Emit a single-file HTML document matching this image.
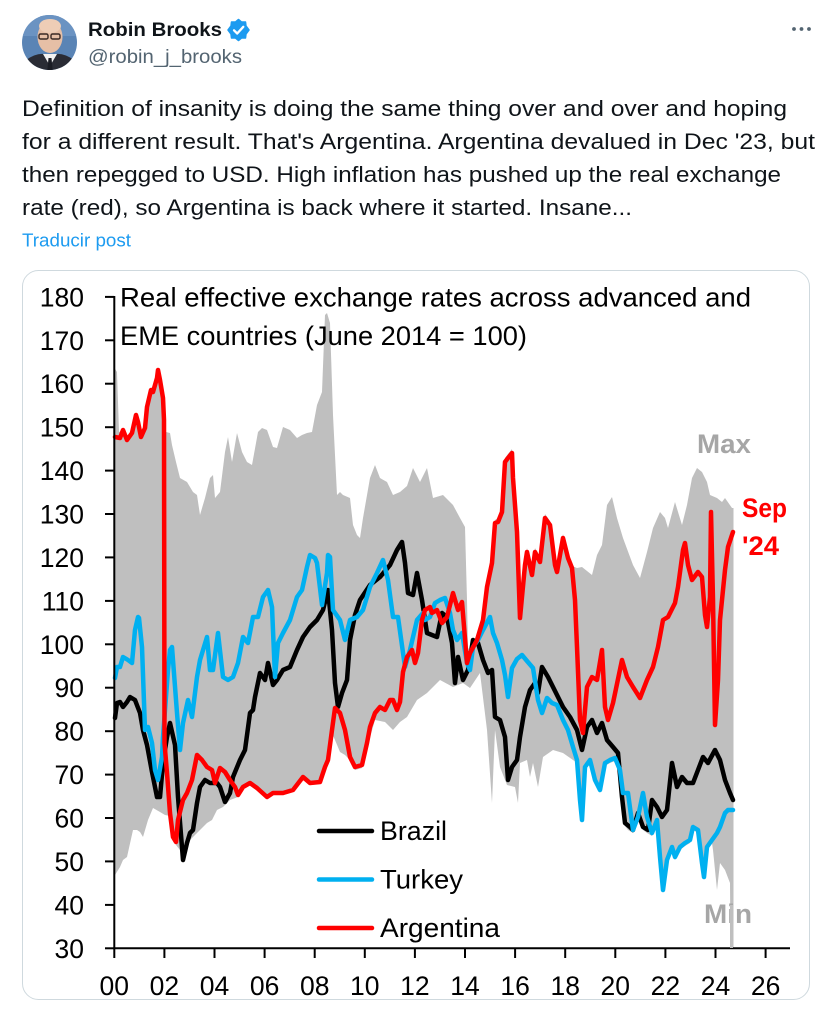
<!DOCTYPE html>
<html>
<head>
<meta charset="utf-8">
<style>
html,body{margin:0;padding:0;background:#fff;}
body{width:832px;height:1023px;overflow:hidden;}
svg{display:block;}
text{font-family:"Liberation Sans",Arial,sans-serif;}
</style>
</head>
<body>
<svg width="832" height="1023" viewBox="0 0 832 1023" xmlns="http://www.w3.org/2000/svg">
  <rect x="0" y="0" width="832" height="1023" fill="#fff"/>

  <!-- Avatar -->
  <defs>
    <clipPath id="av"><circle cx="49.5" cy="42.5" r="27.5"/></clipPath>
  </defs>
  <g clip-path="url(#av)">
    <rect x="20" y="14" width="60" height="60" fill="#5a84b5"/>
    <rect x="20" y="14" width="60" height="22" fill="#6b93c2"/>
    <ellipse cx="50" cy="37" rx="12.5" ry="16" fill="#e6bfa6"/>
    <ellipse cx="50" cy="26" rx="11" ry="7" fill="#eecdb6"/>
    <rect x="39" y="34" width="9" height="5" rx="1.5" fill="none" stroke="#3a2a25" stroke-width="1.4"/>
    <rect x="51" y="34" width="9" height="5" rx="1.5" fill="none" stroke="#3a2a25" stroke-width="1.4"/>
    <path d="M22 74 L26 60 Q36 53 44 54 L50 62 L56 54 Q64 53 74 60 L78 74 Z" fill="#2a2c35"/>
    <path d="M43 54 L50 66 L57 54 Z" fill="#f2f2f2"/>
    <path d="M48.5 58 L51.5 58 L53 74 L47 74 Z" fill="#1a1c24"/>
  </g>

  <!-- Name, badge, handle -->
  <text x="88" y="36" font-size="19" font-weight="bold" fill="#0f1419" textLength="134" lengthAdjust="spacingAndGlyphs">Robin Brooks</text>
  <g transform="translate(238.5,30)">
    <path d="M0,-10.5 L3,-8 L7,-8 L7.5,-4 L10.5,0 L7.5,4 L7,8 L3,8 L0,10.5 L-3,8 L-7,8 L-7.5,4 L-10.5,0 L-7.5,-4 L-7,-8 L-3,-8 Z" fill="#1d9bf0" stroke="#1d9bf0" stroke-width="1.5" stroke-linejoin="round"/>
    <path d="M-4.5,0.3 L-1.3,3.5 L4.8,-3.2" fill="none" stroke="#fff" stroke-width="2.3" stroke-linecap="round" stroke-linejoin="round"/>
  </g>
  <text x="88" y="63" font-size="19" fill="#536471" textLength="154" lengthAdjust="spacingAndGlyphs">@robin_j_brooks</text>

  <!-- more dots -->
  <circle cx="794" cy="29" r="1.9" fill="#536471"/>
  <circle cx="801.5" cy="29" r="1.9" fill="#536471"/>
  <circle cx="809" cy="29" r="1.9" fill="#536471"/>

  <!-- Tweet text -->
  <g font-size="22" fill="#0f1419">
    <text x="22" y="116" textLength="765" lengthAdjust="spacingAndGlyphs">Definition of insanity is doing the same thing over and over and hoping</text>
    <text x="22" y="149" textLength="793" lengthAdjust="spacingAndGlyphs">for a different result. That's Argentina. Argentina devalued in Dec '23, but</text>
    <text x="22" y="182" textLength="759" lengthAdjust="spacingAndGlyphs">then repegged to USD. High inflation has pushed up the real exchange</text>
    <text x="22" y="215" textLength="610" lengthAdjust="spacingAndGlyphs">rate (red), so Argentina is back where it started. Insane...</text>
  </g>
  <text x="22" y="246.5" font-size="18.5" fill="#1d9bf0" textLength="109" lengthAdjust="spacingAndGlyphs">Traducir post</text>

  <!-- Card -->
  <rect x="22.5" y="270.5" width="787" height="729" rx="16" ry="16" fill="#fff" stroke="#cfd9de" stroke-width="1"/>

  <!-- Band (Max/Min) -->
  <polygon fill="#bfbfbf" points="114.5,368 117,372 119,432 123,430 127,438 132,431 136,413 138,420 141,435 145,426 147,405 151,388 153,390 157,376 158,368 160,378 163,396 164,420 166,432 170,433 172,445 176,462 180,478 187,482 193,492 197,495 200,515 205,498 210,478 213,475 215,498 220,492 225,452 228,437 232,462 237,433 242,452 247,462 252,465 258,432 262,428 267,430 273,447 277,448 283,427 290,430 297,438 302,435 307,433 312,432 317,405 322,392 325,315 327,313 330,323 333,415 337,495 340,492 343,495 350,498 353,525 357,535 360,538 363,518 370,478 375,465 380,478 387,482 393,495 400,492 407,486 413,468 420,482 427,468 433,498 443,495 453,505 460,518 465,527 467,600 468,648 470,650 477,636 483,616 487,583 492,559 495,520 498,518 502,508 505,458 508,454 512,449 513,474 517,528 520,600 525,561 527,548 532,571 535,548 540,558 545,514 550,521 555,561 557,566 563,534 568,554 572,566 577,568 582,567 592,575 597,555 602,545 607,505 612,497 617,518 623,538 633,565 640,578 647,552 653,528 660,512 665,518 668,528 675,502 682,525 687,505 692,478 697,468 702,472 707,482 710,495 717,498 722,502 725,498 732,508 733.5,508 733.5,948 730.5,948 730,883 725,870 720,863 717,890 713,850 712,843 707,850 704,880 702,866 698,833 693,830 690,843 685,846 680,850 675,860 672,850 667,863 663,893 660,860 657,823 652,836 647,833 643,830 638,820 633,833 628,830 625,826 622,800 620,773 615,761 610,763 605,766 600,793 595,783 590,763 585,770 582,823 580,803 577,763 573,760 563,753 553,750 543,757 538,787 533,763 530,777 527,760 520,763 518,803 515,787 507,785 500,767 495,730 492,803 487,730 480,673 470,688 463,683 453,687 440,680 427,693 417,700 407,717 400,722 393,730 385,722 375,720 367,748 362,768 355,770 350,760 345,755 340,752 335,740 332,733 328,762 325,769 320,784 310,785 303,779 293,792 283,795 273,795 267,799 257,790 250,785 243,789 238,797 230,800 223,807 217,810 212,820 207,823 197,833 190,840 187,845 183,863 180,850 176,845 173,840 170,816 165,815 160,812 153,808 148,820 143,837 140,832 137,830 133,830 127,857 123,860 120,867 115,875 114.5,875"/>

  <!-- Series -->
  <g fill="none" stroke-width="4.5" stroke-linejoin="round" stroke-linecap="round">
    <!-- Brazil -->
    <polyline stroke="#000" points="115,718 117,703 120,702 123,707 127,702 130,697 135,700 140,713 143,730 147,745 152,772 157,797 160,797 163,763 167,737 170,723 175,745 178,797 183,860 187,843 190,833 193,830 197,803 200,787 205,780 210,783 217,783 220,787 225,802 230,793 233,777 240,760 245,750 250,713 253,710 255,697 260,673 265,680 268,663 273,685 277,680 283,670 290,667 297,650 303,637 310,627 317,620 323,610 328,590 332,630 335,683 338,707 342,693 347,680 350,640 355,615 360,600 370,585 380,577 390,565 397,550 402,542 405,563 408,593 413,595 417,573 422,600 427,633 432,635 437,637 442,613 447,617 452,643 455,683 458,657 463,680 468,670 473,640 478,643 483,660 488,673 492,670 495,717 500,720 505,737 508,780 512,767 517,760 520,737 525,707 530,690 535,683 538,693 542,667 548,677 553,687 558,697 563,707 570,717 577,730 582,750 587,727 592,720 597,733 602,723 607,740 613,747 618,753 622,797 625,823 630,827 633,830 638,813 643,827 648,830 652,800 657,807 662,817 667,810 672,763 677,787 682,777 687,783 693,783 698,770 703,757 708,763 715,750 720,760 725,780 730,793 733,800"/>
    <!-- Turkey -->
    <polyline stroke="#00b0f0" points="115,678 117,667 120,667 123,657 128,660 132,663 135,630 138,617 139,618 142,647 145,730 148,727 152,743 155,770 158,780 162,757 163,737 168,670 170,650 172,647 177,713 180,750 183,723 188,700 192,717 197,677 200,660 207,637 210,670 213,670 218,633 223,677 228,680 233,677 238,663 243,637 248,643 253,617 258,617 263,597 268,590 272,607 275,677 278,643 283,633 290,620 297,597 302,590 307,567 310,555 315,558 317,563 322,605 327,573 328,555 330,557 333,610 340,620 345,640 350,620 357,617 363,610 370,587 377,573 383,560 388,580 393,617 398,617 405,667 410,650 417,620 423,613 425,620 430,617 435,603 440,600 445,598 450,613 453,630 457,640 462,633 467,663 470,670 473,647 478,640 483,630 490,617 493,633 497,643 502,660 505,675 508,697 512,668 517,659 522,655 527,661 533,668 538,700 542,713 547,698 552,703 557,705 563,720 568,730 573,747 577,760 580,800 582,820 585,767 590,760 595,780 600,790 605,763 610,760 615,758 620,770 623,793 628,793 633,830 638,817 643,793 647,817 652,833 657,820 660,857 663,890 667,860 672,847 675,857 680,847 685,843 690,840 693,827 698,830 702,863 704,877 707,847 712,840 717,833 720,827 725,813 728,810 733,810"/>
    <!-- Argentina -->
    <polyline stroke="#ff0000" points="115,437 120,438 123,430 127,440 132,433 136,415 138,422 141,437 145,428 147,407 151,390 153,392 157,378 158,370 160,380 163,398 164,420 164.5,743 167,773 170,813 173,837 176,842 178,820 183,800 187,793 192,780 197,755 202,760 207,767 212,770 215,783 220,768 225,772 230,780 235,787 238,795 243,787 250,783 257,788 267,797 273,793 283,793 293,790 303,777 310,783 320,782 325,767 328,760 332,730 335,708 340,713 345,730 350,757 355,767 362,765 367,743 370,727 375,713 380,707 385,710 390,700 393,700 397,710 400,702 403,672 407,657 412,650 415,663 418,653 422,620 425,610 430,607 432,613 437,610 442,623 447,617 453,593 458,610 462,602 467,663 470,653 477,640 483,620 487,587 492,563 495,523 498,522 502,512 505,462 508,458 512,453 513,478 517,532 520,618 525,565 527,552 532,575 535,552 540,562 545,518 550,525 555,565 557,572 563,538 568,558 572,568 575,600 577,647 580,720 583,733 587,687 592,677 597,680 602,650 605,707 608,720 613,703 622,660 627,677 633,687 640,698 647,680 653,667 658,647 663,620 668,617 675,603 678,587 683,550 685,543 688,565 692,580 698,572 702,577 705,615 707,627 710,597 711,512 713,600 715,725 718,680 720,620 722,600 725,570 728,547 733,532"/>
  </g>

  <!-- Axes -->
  <g stroke="#000" stroke-width="2" fill="none">
    <line x1="114.3" y1="296" x2="114.3" y2="949"/>
    <line x1="113.3" y1="948.3" x2="790" y2="948.3"/>
    <line x1="105" y1="948.3" x2="114" y2="948.3"/>
    <line x1="105" y1="904.9" x2="114" y2="904.9"/>
    <line x1="105" y1="861.4" x2="114" y2="861.4"/>
    <line x1="105" y1="818.0" x2="114" y2="818.0"/>
    <line x1="105" y1="774.6" x2="114" y2="774.6"/>
    <line x1="105" y1="731.2" x2="114" y2="731.2"/>
    <line x1="105" y1="687.7" x2="114" y2="687.7"/>
    <line x1="105" y1="644.3" x2="114" y2="644.3"/>
    <line x1="105" y1="600.9" x2="114" y2="600.9"/>
    <line x1="105" y1="557.4" x2="114" y2="557.4"/>
    <line x1="105" y1="514.0" x2="114" y2="514.0"/>
    <line x1="105" y1="470.6" x2="114" y2="470.6"/>
    <line x1="105" y1="427.2" x2="114" y2="427.2"/>
    <line x1="105" y1="383.7" x2="114" y2="383.7"/>
    <line x1="105" y1="340.3" x2="114" y2="340.3"/>
    <line x1="105" y1="296.9" x2="114" y2="296.9"/>
    <line x1="114.3" y1="948" x2="114.3" y2="958"/>
    <line x1="164.4" y1="948" x2="164.4" y2="958"/>
    <line x1="214.5" y1="948" x2="214.5" y2="958"/>
    <line x1="264.6" y1="948" x2="264.6" y2="958"/>
    <line x1="314.7" y1="948" x2="314.7" y2="958"/>
    <line x1="364.8" y1="948" x2="364.8" y2="958"/>
    <line x1="414.9" y1="948" x2="414.9" y2="958"/>
    <line x1="465.0" y1="948" x2="465.0" y2="958"/>
    <line x1="515.1" y1="948" x2="515.1" y2="958"/>
    <line x1="565.2" y1="948" x2="565.2" y2="958"/>
    <line x1="615.3" y1="948" x2="615.3" y2="958"/>
    <line x1="665.4" y1="948" x2="665.4" y2="958"/>
    <line x1="715.5" y1="948" x2="715.5" y2="958"/>
    <line x1="765.6" y1="948" x2="765.6" y2="958"/>
  </g>

  <!-- Y labels -->
  <g font-size="26.5" fill="#000" text-anchor="end">
    <text x="84" y="957.8">30</text>
    <text x="84" y="914.4">40</text>
    <text x="84" y="870.9">50</text>
    <text x="84" y="827.5">60</text>
    <text x="84" y="784.1">70</text>
    <text x="84" y="740.7">80</text>
    <text x="84" y="697.2">90</text>
    <text x="84" y="653.8">100</text>
    <text x="84" y="610.4">110</text>
    <text x="84" y="566.9">120</text>
    <text x="84" y="523.5">130</text>
    <text x="84" y="480.1">140</text>
    <text x="84" y="436.7">150</text>
    <text x="84" y="393.2">160</text>
    <text x="84" y="349.8">170</text>
    <text x="84" y="306.4">180</text>
  </g>

  <!-- X labels -->
  <g font-size="26.5" fill="#000" text-anchor="middle">
    <text x="114.3" y="995">00</text>
    <text x="164.4" y="995">02</text>
    <text x="214.5" y="995">04</text>
    <text x="264.6" y="995">06</text>
    <text x="314.7" y="995">08</text>
    <text x="364.8" y="995">10</text>
    <text x="414.9" y="995">12</text>
    <text x="465.0" y="995">14</text>
    <text x="515.1" y="995">16</text>
    <text x="565.2" y="995">18</text>
    <text x="615.3" y="995">20</text>
    <text x="665.4" y="995">22</text>
    <text x="715.5" y="995">24</text>
    <text x="765.6" y="995">26</text>
  </g>

  <!-- Title -->
  <g font-size="27" fill="#000">
    <text x="120" y="306.5" textLength="631" lengthAdjust="spacingAndGlyphs">Real effective exchange rates across advanced and</text>
    <text x="120" y="345" textLength="407" lengthAdjust="spacingAndGlyphs">EME countries (June 2014 = 100)</text>
  </g>

  <!-- Legend -->
  <g stroke-width="4.5" stroke-linecap="round">
    <line x1="319" y1="831" x2="372" y2="831" stroke="#000"/>
    <line x1="319" y1="879.5" x2="372" y2="879.5" stroke="#00b0f0"/>
    <line x1="319" y1="928" x2="372" y2="928" stroke="#ff0000"/>
  </g>
  <g font-size="27" fill="#000">
    <text x="380" y="840" textLength="67" lengthAdjust="spacingAndGlyphs">Brazil</text>
    <text x="380" y="888.5" textLength="83" lengthAdjust="spacingAndGlyphs">Turkey</text>
    <text x="380" y="937" textLength="120" lengthAdjust="spacingAndGlyphs">Argentina</text>
  </g>

  <!-- Annotations -->
  <g font-size="27" font-weight="bold">
    <text x="697" y="453" fill="#a6a6a6" textLength="54" lengthAdjust="spacingAndGlyphs">Max</text>
    <text x="704" y="923" fill="#a6a6a6" textLength="48" lengthAdjust="spacingAndGlyphs">Min</text>
    <text x="742" y="517" fill="#ff0000" textLength="45" lengthAdjust="spacingAndGlyphs">Sep</text>
    <text x="742" y="555" fill="#ff0000" textLength="37" lengthAdjust="spacingAndGlyphs">'24</text>
  </g>
  <line x1="731.5" y1="905" x2="731.5" y2="948" stroke="#bfbfbf" stroke-width="3"/>
</svg>
</body>
</html>
